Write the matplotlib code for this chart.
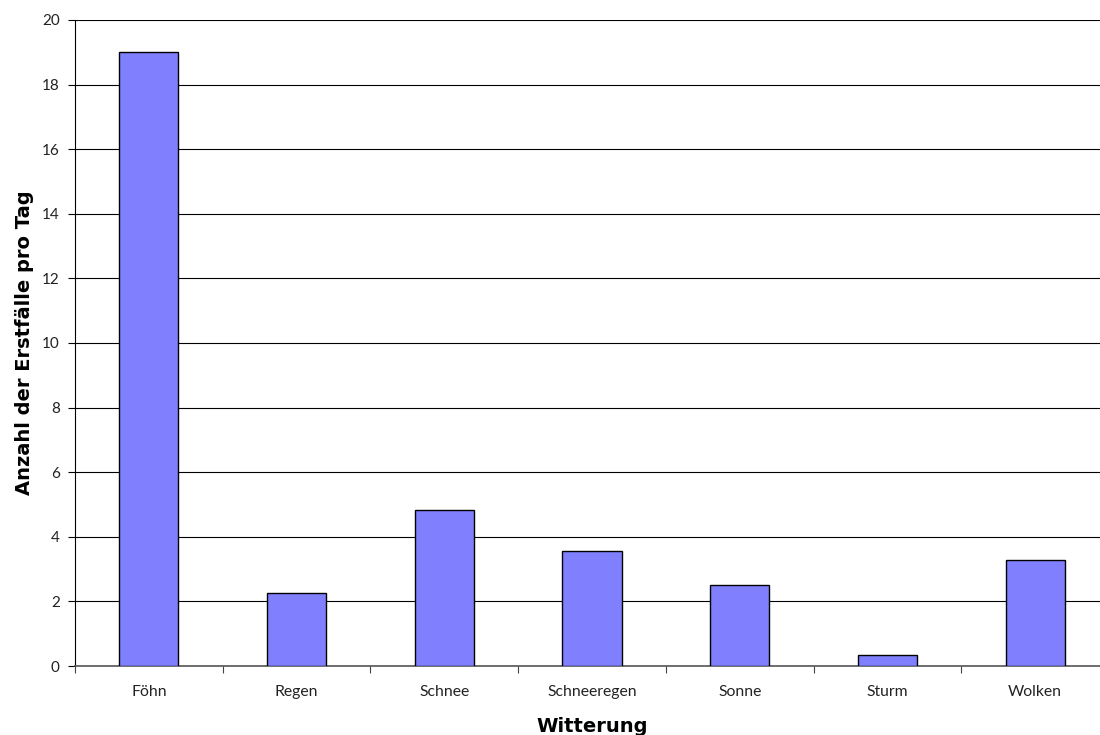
import numpy as np
import matplotlib.pyplot as plt

# Daten: Erstfälle pro Tag nach Witterung
kategorien = ["Föhn", "Regen", "Schnee", "Schneeregen", "Sonne", "Sturm", "Wolken"]
werte = [19.0, 2.27, 4.82, 3.57, 2.51, 0.33, 3.28]
y_ticks = [0, 2, 4, 6, 8, 10, 12, 14, 16, 18, 20]

plt.rcParams['font.family'] = ['Lato', 'DejaVu Sans']

fig = plt.figure(figsize=(11, 7.35), dpi=100)
ax = fig.add_axes([75/1100, 1 - 666/735, 1034/1100, 646/735])

x = np.arange(len(kategorien))
ax.bar(x, werte, width=0.4, color='#8080FF', edgecolor='black', linewidth=1.0, zorder=3)

ax.set_xlim(-0.5, len(kategorien) - 0.5)
ax.set_ylim(0, 20)
ax.set_yticks(y_ticks)
ax.set_yticklabels([str(v) for v in y_ticks], fontsize=11, color='#222222')

# Ticks an den Kategoriegrenzen, Beschriftung in der Mitte
ax.set_xticks(np.arange(-0.5, len(kategorien) + 0.5, 1.0))
ax.set_xticklabels([])
ax.set_xticks(x, minor=True)
ax.set_xticklabels(kategorien, minor=True, fontsize=11.3, color='#222222')
ax.tick_params(axis='x', which='major', length=5, direction='out', color='#444444')
ax.tick_params(axis='x', which='minor', length=0, pad=14)
ax.tick_params(axis='y', length=5, direction='out', pad=6)

ax.yaxis.grid(True, color='black', linewidth=0.8, zorder=0)
ax.set_axisbelow(True)
for s in ['top', 'right']:
    ax.spines[s].set_visible(False)
ax.spines['left'].set_color('black')
ax.spines['bottom'].set_color('#555555')
ax.spines['bottom'].set_linewidth(1.2)

ax.set_ylabel("Anzahl der Erstfälle pro Tag", fontsize=14, fontweight='bold',
              family='DejaVu Sans', labelpad=6)
ax.set_xlabel("Witterung", fontsize=14, fontweight='bold',
              family='DejaVu Sans', labelpad=13)

fig.savefig("out.png", dpi=100)
